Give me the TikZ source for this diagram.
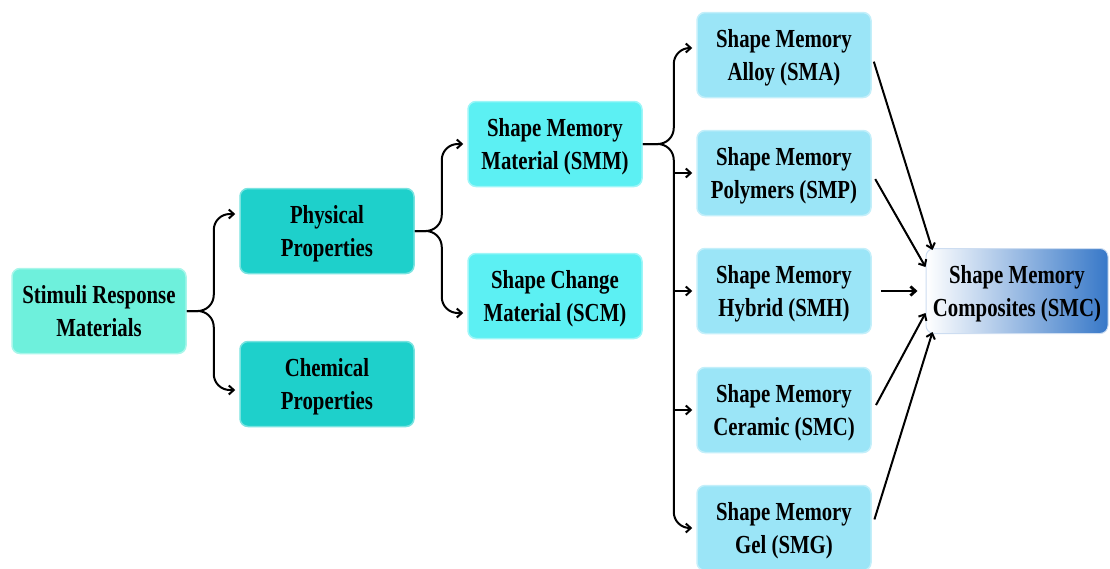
\documentclass[tikz,border=0pt]{standalone}
\usepackage{fontspec}
\setmainfont{Liberation Serif}[FakeStretch=0.8]
\usetikzlibrary{arrows.meta,calc}
\definecolor{cstim}{RGB}{110,240,220}
\definecolor{cphys}{RGB}{30,208,203}
\definecolor{csmm}{RGB}{92,240,243}
\definecolor{csma}{RGB}{155,229,247}
\definecolor{ccomp}{RGB}{55,120,200}
\begin{document}
\begin{tikzpicture}[x=1pt,y=-1pt,
  box/.style={rounded corners=8pt, minimum width=174pt, minimum height=85pt, align=center,
    font=\fontsize{26}{33}\selectfont\bfseries, text=black, inner sep=0pt, text depth=0pt},
  stimbox/.style={box, fill=cstim, draw=cstim!60!white, line width=1.5pt},
  physbox/.style={box, fill=cphys, draw=cphys!60!white, line width=1.5pt},
  smmbox/.style={box, fill=csmm, draw=csmm!60!white, line width=1.5pt},
  smabox/.style={box, fill=csma, draw=csma!60!white, line width=1.5pt},
  compbox/.style={box, minimum width=182pt, left color=white, right color=ccomp, draw=ccomp!25!white, line width=1pt},
  arr/.style={draw=black, line width=2pt, -{Straight Barb[length=5pt,width=9pt]}},
  brace/.style={arr, rounded corners=16pt}
]
\useasboundingbox (0,0) rectangle (1110,568);

\node[stimbox] (stim) at (99,311) {Stimuli Response\\Materials};
\node[physbox] (phys) at (327,231) {Physical\\Properties};
\node[physbox] (chem) at (327,384) {Chemical\\Properties};
\node[smmbox] (smm) at (555,144) {Shape Memory\\Material (SMM)};
\node[smmbox] (scm) at (555,296) {Shape Change\\Material (SCM)};
\node[smabox] (sma) at (784,55) {Shape Memory\\Alloy (SMA)};
\node[smabox] (smp) at (784,173) {Shape Memory\\Polymers (SMP)};
\node[smabox] (smh) at (784,291) {Shape Memory\\Hybrid (SMH)};
\node[smabox] (smc) at (784,410) {Shape Memory\\Ceramic (SMC)};
\node[smabox] (smg) at (784,528) {Shape Memory\\Gel (SMG)};
\node[compbox] (comp) at (1017,291) {Shape Memory\\Composites (SMC)};

% braces
\draw[brace, shorten >=4pt] (stim.east) -- ++(27,0) |- ([yshift=17pt]phys.west);
\draw[brace, shorten >=4pt] (stim.east) -- ++(27,0) |- ([yshift=-6pt]chem.west);
\draw[brace, shorten >=4pt] (phys.east) -- ++(27,0) |- (smm.west);
\draw[brace, shorten >=4pt] (phys.east) -- ++(27,0) |- ([yshift=-17pt]scm.west);
\coordinate (v) at ($(smm.east)+(31,0)$);
\draw[brace, shorten >=4pt] (smm.east) -- (v) |- ([yshift=7pt]sma.west);
\draw[brace, shorten >=4pt] (smm.east) -- (v) |- (smg.west);
\draw[arr, shorten >=4pt] (v |- smp.west) -- (smp.west);
\draw[arr, shorten >=4pt] (v |- smh.west) -- (smh.west);
\draw[arr, shorten >=4pt] (v |- smc.west) -- (smc.west);

% to composites
\draw[arr, shorten <=7pt] (sma.east) -- ([xshift=7pt,yshift=-2pt]comp.north west);
\draw[arr, shorten <=7pt] (smp.east) -- ([yshift=24pt]comp.west);
\draw[arr, line width=2.8pt, shorten <=9pt, shorten >=8pt] (smh.east) -- (comp.west);
\draw[arr, shorten <=9pt] ([yshift=-3pt]smc.east) -- ([yshift=-22pt]comp.west);
\draw[arr, shorten <=9pt] (smg.east) -- ([xshift=7pt,yshift=2pt]comp.south west);
\end{tikzpicture}
\end{document}
